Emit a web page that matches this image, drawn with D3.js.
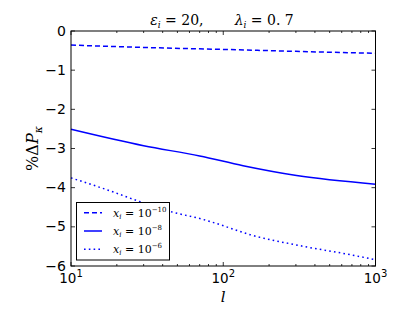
<!DOCTYPE html>
<html><head><meta charset="utf-8">
<script src="https://cdn.jsdelivr.net/npm/d3@7"></script>
<style>body{margin:0;background:#fff}svg{display:block}</style>
</head><body>
<script>
const dashedL = [10, 30, 100, 300, 1000];
const dashedV = [-0.36, -0.42, -0.47, -0.52, -0.57];
const solidL = [10, 30, 70, 135, 303, 1000];
const solidV = [-2.51, -2.93, -3.19, -3.44, -3.69, -3.91];
const dottedL = [10, 18, 28, 47, 72, 91, 150, 318, 679, 1000];
const dottedV = [-3.75, -4.08, -4.35, -4.63, -4.80, -4.92, -5.20, -5.48, -5.71, -5.84];
const yTicks = [0, -1, -2, -3, -4, -5, -6];
const xTicks = [10, 100, 1000];
const legendExp = ["-10", "-8", "-6"];
const seriesStyles = ["5,3", null, "1.6,3.2"];

const W = 417, H = 313;
const m = {l: 71, r: 375.5, t: 31, b: 266};
const svg = d3.select("body").append("svg").attr("width", W).attr("height", H);
const x = d3.scaleLog().domain([10, 1000]).range([m.l, m.r]);
const y = d3.scaleLinear().domain([-6, 0]).range([m.b, m.t]);

const series = [
  {L: dashedL, V: dashedV},
  {L: solidL, V: solidV},
  {L: dottedL, V: dottedV}
];
const line = d3.line().x(d => x(d[0])).y(d => y(d[1])).curve(d3.curveMonotoneX);
series.forEach((s, i) => {
  const p = svg.append("path").datum(s.L.map((l, j) => [l, s.V[j]]))
    .attr("d", line).attr("fill", "none").attr("stroke", "#0000ff")
    .attr("stroke-width", 1.5);
  if (seriesStyles[i]) p.attr("stroke-dasharray", seriesStyles[i]);
});

// minor ticks
const minor = [];
[10, 100].forEach(d => { for (let k = 2; k <= 9; k++) minor.push(d * k); });
const tg = svg.append("g").attr("stroke", "#000").attr("stroke-width", 0.8);
minor.forEach(v => {
  tg.append("line").attr("x1", x(v)).attr("x2", x(v)).attr("y1", m.b).attr("y2", m.b - 2);
  tg.append("line").attr("x1", x(v)).attr("x2", x(v)).attr("y1", m.t).attr("y2", m.t + 2);
});
xTicks.forEach(v => {
  tg.append("line").attr("x1", x(v)).attr("x2", x(v)).attr("y1", m.b).attr("y2", m.b - 4);
  tg.append("line").attr("x1", x(v)).attr("x2", x(v)).attr("y1", m.t).attr("y2", m.t + 4);
});
yTicks.forEach(v => {
  tg.append("line").attr("x1", m.l).attr("x2", m.l + 4).attr("y1", y(v)).attr("y2", y(v));
  tg.append("line").attr("x1", m.r).attr("x2", m.r - 4).attr("y1", y(v)).attr("y2", y(v));
});

svg.append("rect").attr("x", m.l).attr("y", m.t).attr("width", m.r - m.l).attr("height", m.b - m.t)
  .attr("fill", "none").attr("stroke", "#000").attr("stroke-width", 1);

const sans = "'DejaVu Sans', sans-serif";
const serif = "'DejaVu Serif', serif";
// y tick labels
yTicks.forEach(v => {
  svg.append("text").attr("x", m.l - 5).attr("y", y(v) + 4.5).attr("text-anchor", "end")
    .attr("font-family", sans).attr("font-size", 14).text(v === 0 ? "0" : "\u2212" + Math.abs(v));
});
// x tick labels
xTicks.forEach(v => {
  const t = svg.append("text").attr("x", x(v)).attr("y", m.b + 16.5).attr("text-anchor", "middle")
    .attr("font-family", sans).attr("font-size", 13.5);
  t.append("tspan").text("10");
  t.append("tspan").attr("font-size", 10).attr("dy", -6).text(Math.round(Math.log10(v)));
});
// x label
svg.append("text").attr("x", (m.l + m.r) / 2).attr("y", 302).attr("text-anchor", "middle")
  .attr("font-family", serif).attr("font-style", "italic").attr("font-size", 15).text("l");
// y label
const yl = svg.append("text").attr("transform", `translate(38,${(m.t + m.b) / 2}) rotate(-90)`)
  .attr("text-anchor", "middle").attr("font-family", serif).attr("font-size", 16);
yl.append("tspan").text("%\u0394");
yl.append("tspan").attr("font-style", "italic").text("P");
yl.append("tspan").attr("font-style", "italic").attr("font-size", 11).attr("dy", 4).text("\u03ba");

// title
const tt = svg.append("text").attr("x", 222).attr("y", 25).attr("text-anchor", "middle")
  .attr("font-family", serif).attr("font-size", 14).attr("xml:space", "preserve");
tt.append("tspan").attr("font-style", "italic").text("\u03b5");
tt.append("tspan").attr("font-style", "italic").attr("font-size", 9).attr("dy", 3).text("i");
tt.append("tspan").attr("dy", -3).text(" = 20,       ");
tt.append("tspan").attr("font-style", "italic").text("\u03bb");
tt.append("tspan").attr("font-style", "italic").attr("font-size", 9).attr("dy", 3).text("i");
tt.append("tspan").attr("dy", -3).text(" = 0. 7");

// legend
const lg = svg.append("g");
lg.append("rect").attr("x", 76.5).attr("y", 202.5).attr("width", 93).attr("height", 57.5)
  .attr("fill", "#fff").attr("stroke", "#000").attr("stroke-width", 1);
const rows = [212.7, 231, 249.3];
legendExp.forEach((e, i) => {
  const l = lg.append("line").attr("x1", 84).attr("x2", 102).attr("y1", rows[i]).attr("y2", rows[i])
    .attr("stroke", "#0000ff").attr("stroke-width", 1.5);
  if (seriesStyles[i]) l.attr("stroke-dasharray", seriesStyles[i]);
  const t = lg.append("text").attr("x", 113).attr("y", rows[i] + 4).attr("font-family", serif).attr("font-size", 11);
  t.append("tspan").attr("font-style", "italic").text("x");
  t.append("tspan").attr("font-style", "italic").attr("font-size", 7).attr("dy", 2).text("i");
  t.append("tspan").attr("dy", -2).text(" = 10");
  t.append("tspan").attr("font-size", 7).attr("dy", -5).text("\u2212" + e.replace("-", ""));
});
</script>
</body></html>
